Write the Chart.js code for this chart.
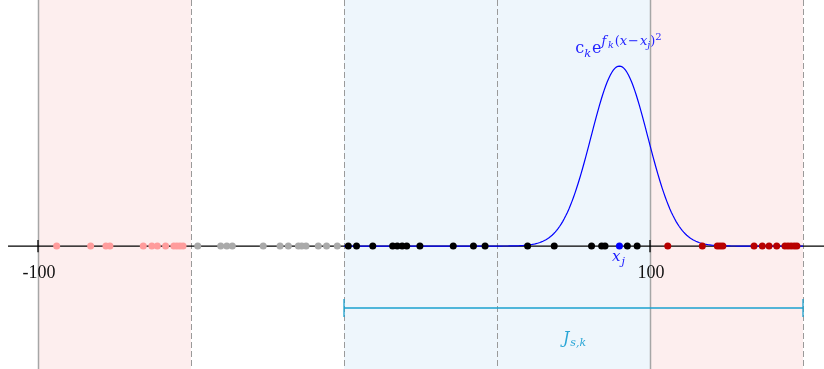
<!DOCTYPE html>
<html>
<head>
<meta charset="utf-8">
<script src="https://cdn.jsdelivr.net/npm/chart.js@4.4.1/dist/chart.umd.min.js"></script>
<style>
  html, body { margin: 0; padding: 0; background: #fff; }
  canvas { display: block; }
</style>
</head>
<body>
<canvas id="chart" width="824" height="369"></canvas>
<script>
// ===== DATA =====
// sample positions on the line, grouped by colour
const pinkPts  = [-93.9, -82.8, -77.8, -76.5, -65.6, -62.8, -61.0, -58.3, -55.6, -54.6, -53.6, -52.6];
const grayPts  = [-47.8, -40.3, -38.3, -36.5, -26.4, -20.9, -18.2, -14.9, -13.8, -12.4, -8.4, -5.7, -2.2];
const blackPts = [1.4, 4.1, 9.4, 15.9, 17.4, 19.0, 20.5, 24.8, 35.7, 42.3, 46.1, 60.0, 68.7, 80.9, 84.2, 85.3, 92.6, 95.8];
const redPts   = [105.8, 117.1, 122.0, 122.9, 123.8, 134.0, 136.7, 138.9, 141.4, 144.1, 145.1, 146.1, 147.1, 148.0];

// bump c_k * exp(f_k (x - x_j)^2) on the interval J_{s,k}
const xj = 90;
const ck = 1;
const fk = -0.0058;
const intervalJ = [0, 150];

// background bands [from, to, colour]
const bands = [
  [-100, -50, "#fdeeee"],
  [0, 100, "#eef6fc"],
  [100, 150, "#fdeeee"],
];
const solidLines = [-100, 100];
const dashedLines = [-50, 0, 50, 150];
const tickValues = [-100, 100];
const tickLabels = ["-100", "100"];

// ===== HELPERS =====
const toPts = (arr) => arr.map((v) => ({ x: v, y: 0 }));

function bumpPoints() {
  const pts = [];
  for (let x = intervalJ[0]; x <= intervalJ[1]; x += 0.5) {
    pts.push({ x, y: ck * Math.exp(fk * (x - xj) * (x - xj)) });
  }
  return pts;
}

function dots(data, color) {
  return {
    type: "scatter",
    data: toPts(data),
    pointRadius: 3.5,
    pointBackgroundColor: color,
    pointBorderWidth: 0,
    order: 0,
  };
}

function line(data, color, width, order) {
  return {
    type: "line",
    data,
    borderColor: color,
    borderWidth: width,
    pointRadius: 0,
    fill: false,
    tension: 0,
    order,
  };
}

// draw text made of several runs (font / vertical shift)
function drawRuns(ctx, runs, cx, baseline, color) {
  ctx.save();
  ctx.fillStyle = color;
  ctx.textBaseline = "alphabetic";
  ctx.textAlign = "left";
  let total = 0;
  runs.forEach((r) => { ctx.font = r.f; total += ctx.measureText(r.t).width + (r.gap || 0); });
  let x = cx - total / 2;
  runs.forEach((r) => {
    ctx.font = r.f;
    ctx.fillText(r.t, x, baseline + (r.dy || 0));
    x += ctx.measureText(r.t).width + (r.gap || 0);
  });
  ctx.restore();
}

const SERIF = '"Liberation Serif", serif';
const MATH = '"DejaVu Serif", serif';
const rm = (s) => `${s}px ${MATH}`;
const it = (s) => `italic ${s}px ${MATH}`;

// ===== PLUGIN: bands, guides, labels =====
const decor = {
  id: "decor",
  beforeDatasetsDraw(chart) {
    const { ctx, chartArea, scales } = chart;
    const { x } = scales;
    ctx.save();
    bands.forEach(([a, b, c]) => {
      ctx.fillStyle = c;
      const x0 = x.getPixelForValue(a);
      ctx.fillRect(x0, chartArea.top, x.getPixelForValue(b) - x0, chartArea.bottom - chartArea.top);
    });
    ctx.strokeStyle = "#a6a6a6";
    ctx.lineWidth = 1.5;
    solidLines.forEach((v) => {
      const px = Math.round(x.getPixelForValue(v)) + 0.5;
      ctx.beginPath();
      ctx.moveTo(px, chartArea.top);
      ctx.lineTo(px, chartArea.bottom);
      ctx.stroke();
    });
    ctx.strokeStyle = "#9a9a9a";
    ctx.lineWidth = 1;
    ctx.setLineDash([6, 3]);
    dashedLines.forEach((v) => {
      const px = Math.round(x.getPixelForValue(v)) + 0.5;
      ctx.beginPath();
      ctx.moveTo(px, chartArea.top);
      ctx.lineTo(px, chartArea.bottom);
      ctx.stroke();
    });
    ctx.restore();
  },
  afterDatasetsDraw(chart) {
    const { ctx, scales } = chart;
    const { x, y } = scales;
    const axisY = y.getPixelForValue(0);

    // tick labels
    ctx.save();
    ctx.fillStyle = "#111";
    ctx.font = `18px ${SERIF}`;
    ctx.textAlign = "center";
    tickValues.forEach((v, i) => {
      ctx.fillText(tickLabels[i], x.getPixelForValue(v) + 1, axisY + 32);
    });
    ctx.restore();

    // x_j under its point
    drawRuns(ctx, [
      { t: "x", f: it(15), gap: 1 },
      { t: "j", f: it(11), dy: 4 },
    ], x.getPixelForValue(xj) - 1, axisY + 15, "#1a1aff");

    // formula above the peak
    const peakY = y.getPixelForValue(ck);
    drawRuns(ctx, [
      { t: "c", f: rm(16) },
      { t: "k", f: it(11.5), dy: 4, gap: 1 },
      { t: "e", f: rm(16) },
      { t: "f", f: it(13), dy: -8, gap: 1.5 },
      { t: "k", f: it(9.5), dy: -5, gap: 1 },
      { t: "(", f: rm(13), dy: -8 },
      { t: "x", f: it(13), dy: -8, gap: 1 },
      { t: "\u2212", f: rm(13), dy: -8, gap: 1 },
      { t: "x", f: it(13), dy: -8 },
      { t: "j", f: it(9.5), dy: -5 },
      { t: ")", f: rm(13), dy: -8 },
      { t: "2", f: rm(10), dy: -13 },
    ], x.getPixelForValue(xj) - 1, peakY - 13, "#2424ff");

    // J_{s,k} under the bracket
    drawRuns(ctx, [
      { t: "J", f: it(16), gap: 1 },
      { t: "s,k", f: it(11), dy: 3 },
    ], x.getPixelForValue((intervalJ[0] + intervalJ[1]) / 2) + 1, y.getPixelForValue(bracketY) + 35, "#2aa6d6");
  },
};

// ===== CHART =====
const bracketY = -0.344;
const tickH = 0.034;
const bracketTick = 0.05;

const datasets = [
  // the number line
  line([{ x: -109.8, y: 0 }, { x: 157, y: 0 }], "#000", 1.3, 3),
  line([{ x: -100, y: -tickH }, { x: -100, y: tickH }], "#000", 1.3, 3),
  line([{ x: 100, y: -tickH }, { x: 100, y: tickH }], "#000", 1.3, 3),
  // J_{s,k} bracket
  line([{ x: intervalJ[0], y: bracketY }, { x: intervalJ[1], y: bracketY }], "#1aa0cf", 1.3, 3),
  line([{ x: intervalJ[0], y: bracketY - bracketTick }, { x: intervalJ[0], y: bracketY + bracketTick }], "#1aa0cf", 1.3, 3),
  line([{ x: intervalJ[1], y: bracketY - bracketTick }, { x: intervalJ[1], y: bracketY + bracketTick }], "#1aa0cf", 1.3, 3),
  // the bump
  line(bumpPoints(), "#0000ff", 1.2, 2),
  // samples
  dots(pinkPts, "#ff9c9c"),
  dots(grayPts, "#aaaaaa"),
  dots(blackPts, "#000000"),
  dots([xj], "#0000ff"),
  dots(redPts, "#b80000"),
];

new Chart(document.getElementById("chart"), {
  type: "scatter",
  data: { datasets },
  options: {
    responsive: false,
    animation: false,
    layout: { padding: 0, autoPadding: false },
    plugins: { legend: { display: false }, tooltip: { enabled: false } },
    scales: {
      x: { type: "linear", display: false, min: -112.42, max: 156.86 },
      y: { type: "linear", display: false, min: -0.683, max: 1.367 },
    },
  },
  plugins: [decor],
});
</script>
</body>
</html>
